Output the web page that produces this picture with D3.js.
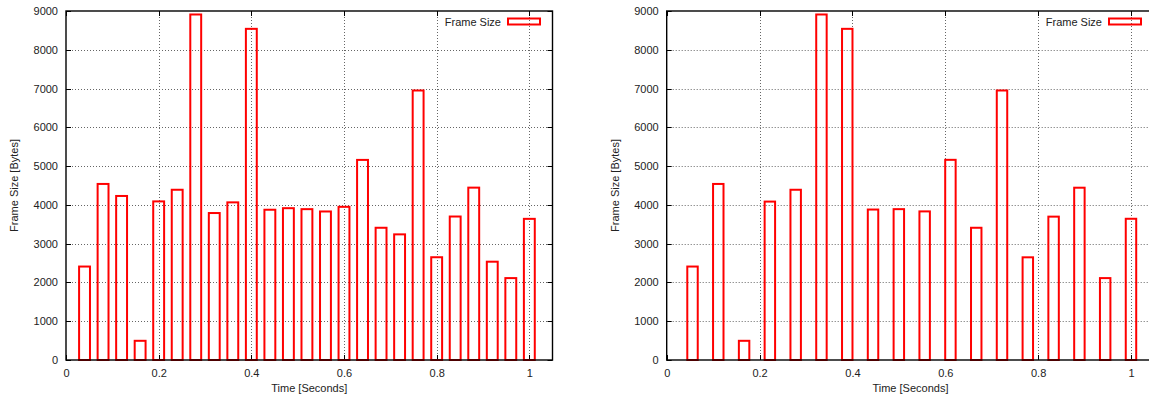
<!DOCTYPE html>
<html>
<head>
<meta charset="utf-8">
<script src="https://cdn.jsdelivr.net/npm/d3@7/dist/d3.min.js"></script>
<style>
  body { margin: 0; background: #fff; }
  svg { display: block; }
  text { font-family: "Liberation Sans", Arial, Helvetica, sans-serif; font-size: 11px; fill: #222; }
</style>
</head>
<body>
<svg id="chart" width="1149" height="398"></svg>
<script>
// ---- Data ----
const leftTimes = [0.04, 0.08, 0.12, 0.16, 0.20, 0.24, 0.28, 0.32, 0.36, 0.40,
                   0.44, 0.48, 0.52, 0.56, 0.60, 0.64, 0.68, 0.72, 0.76, 0.80,
                   0.84, 0.88, 0.92, 0.96, 1.00];
const leftSizes = [2410, 4540, 4230, 495, 4090, 4390, 8910, 3790, 4065, 8540,
                   3875, 3915, 3890, 3830, 3950, 5160, 3410, 3240, 6950, 2650,
                   3700, 4445, 2535, 2112, 3640];
const rightTimes = [0.0556, 0.1111, 0.1667, 0.2222, 0.2778, 0.3333, 0.3889, 0.4444, 0.5000,
                    0.5556, 0.6111, 0.6667, 0.7222, 0.7778, 0.8333, 0.8889, 0.9444, 1.0000];
const rightSizes = [2410, 4540, 495, 4085, 4390, 8910, 8540, 3880, 3890,
                    3832, 5162, 3410, 6950, 2648, 3697, 4443, 2112, 3642];
const yTicks = [0, 1000, 2000, 3000, 4000, 5000, 6000, 7000, 8000, 9000];
const yTickLabels = ["0", "1000", "2000", "3000", "4000", "5000", "6000", "7000", "8000", "9000"];
const xTicks = [0, 0.2, 0.4, 0.6, 0.8, 1];
const xTickLabels = ["0", "0.2", "0.4", "0.6", "0.8", "1"];
const seriesName = "Frame Size";
const xTitle = "Time [Seconds]";
const yTitle = "Frame Size [Bytes]";

const svg = d3.select("#chart");
const W = 1149;

function drawPanel(opts) {
  const { times, sizes, left, right, boxW, legendRight } = opts;
  const top = 11, bottom = 360;
  const x = d3.scaleLinear().domain([0, 1.05]).range([left, right]);
  const y = d3.scaleLinear().domain([0, 9000]).range([bottom, top]);
  const clipId = "clip" + Math.round(left);
  svg.append("clipPath").attr("id", clipId)
    .append("rect").attr("x", 0).attr("y", 0).attr("width", W).attr("height", 398);
  const g = svg.append("g").attr("clip-path", `url(#${clipId})`);

  // grid
  const grid = g.append("g").attr("stroke", "#666").attr("stroke-width", 1)
    .attr("stroke-dasharray", "1,2");
  yTicks.filter(v => v > 0 && v < 9000).forEach(v => {
    grid.append("line").attr("x1", x(0)).attr("x2", x(1.05))
      .attr("y1", Math.round(y(v)) + 0.5).attr("y2", Math.round(y(v)) + 0.5);
  });
  xTicks.filter(v => v > 0).forEach(v => {
    grid.append("line").attr("y1", y(0)).attr("y2", y(9000))
      .attr("x1", Math.round(x(v)) + 0.5).attr("x2", Math.round(x(v)) + 0.5);
  });

  // axes with labels
  const yAxis = d3.axisLeft(y).tickValues(yTicks).tickFormat((d, i) => yTickLabels[i])
    .tickSize(0).tickPadding(8);
  const ya = g.append("g").attr("transform", `translate(${x(0)},0)`).call(yAxis);
  ya.select(".domain").remove();
  ya.selectAll("text").style("font-size", "11px").attr("fill", "#222");

  const xAxis = d3.axisBottom(x).tickValues(xTicks).tickFormat((d, i) => xTickLabels[i])
    .tickSize(0).tickPadding(9);
  const xa = g.append("g").attr("transform", `translate(0,${y(0)})`).call(xAxis);
  xa.select(".domain").remove();
  xa.selectAll("text").style("font-size", "11px").attr("fill", "#222");

  // tick marks (inward, mirrored)
  const tk = g.append("g").attr("stroke", "#000").attr("stroke-width", 1);
  yTicks.forEach(v => {
    const yy = Math.round(y(v)) + 0.5;
    tk.append("line").attr("x1", x(0)).attr("x2", x(0) + 5).attr("y1", yy).attr("y2", yy);
    tk.append("line").attr("x1", x(1.05)).attr("x2", x(1.05) - 5).attr("y1", yy).attr("y2", yy);
  });
  xTicks.forEach(v => {
    const xx = Math.round(x(v)) + 0.5;
    tk.append("line").attr("y1", y(0)).attr("y2", y(0) - 5).attr("x1", xx).attr("x2", xx);
    tk.append("line").attr("y1", y(9000)).attr("y2", y(9000) + 5).attr("x1", xx).attr("x2", xx);
  });

  // bars
  g.append("g").selectAll("rect").data(times).join("rect")
    .attr("x", (d) => x(d - boxW / 2))
    .attr("width", (d) => x(boxW) - x(0))
    .attr("y", (d, i) => y(sizes[i]))
    .attr("height", (d, i) => y(0) - y(sizes[i]))
    .attr("fill", "none")
    .attr("stroke", "#ff0000")
    .attr("stroke-width", 2);

  // border
  g.append("rect").attr("x", x(0)).attr("y", y(9000))
    .attr("width", x(1.05) - x(0)).attr("height", y(0) - y(9000))
    .attr("fill", "none").attr("stroke", "#000").attr("stroke-width", 1.4);

  // legend
  g.append("text").attr("x", legendRight).attr("y", 25.5)
    .attr("text-anchor", "end").text(seriesName);
  g.append("rect").attr("x", legendRight + 7).attr("y", 18.5)
    .attr("width", 32).attr("height", 6)
    .attr("fill", "none").attr("stroke", "#ff0000").attr("stroke-width", 2);

  // titles
  svg.append("text").attr("x", (x(0) + x(1.05)) / 2).attr("y", 392)
    .attr("text-anchor", "middle").text(xTitle);
  svg.append("text")
    .attr("transform", `translate(${opts.yTitleX},${(top + bottom) / 2}) rotate(-90)`)
    .attr("text-anchor", "middle").attr("dy", "0.35em").text(yTitle);
}

drawPanel({ times: leftTimes, sizes: leftSizes, left: 66, right: 552.5, boxW: 0.0235,
            legendRight: 501, yTitleX: 14 });
drawPanel({ times: rightTimes, sizes: rightSizes, left: 666.7, right: 1154.2, boxW: 0.0225,
            legendRight: 1102, yTitleX: 615 });
</script>
</body>
</html>
